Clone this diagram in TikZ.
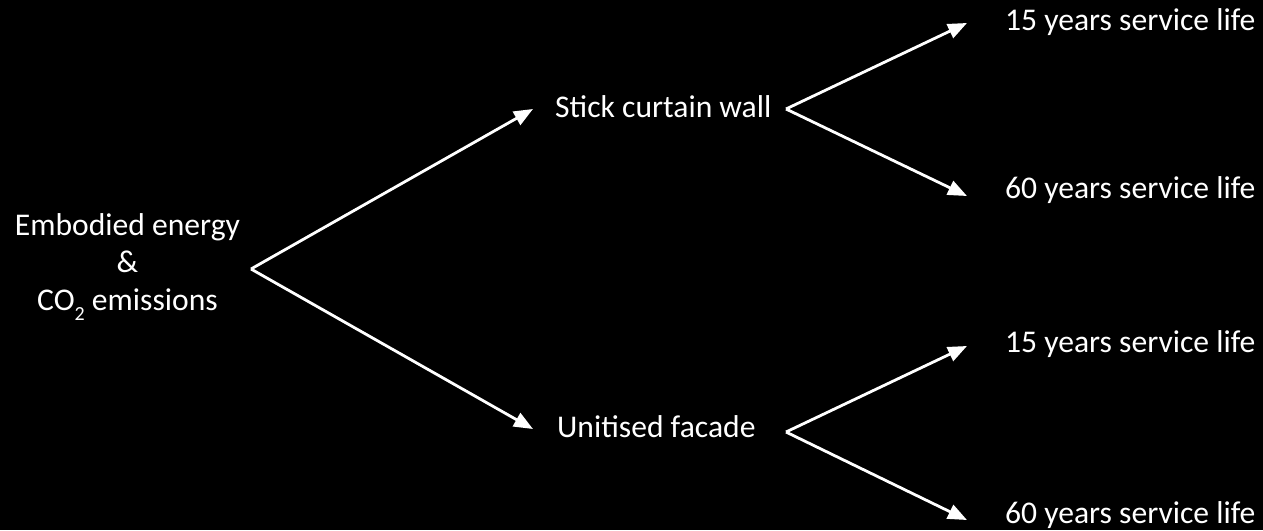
\documentclass[tikz,border=0pt]{standalone}
\usepackage{fontspec}
\setmainfont{Carlito}
\usetikzlibrary{arrows.meta}
\begin{document}
\begin{tikzpicture}[x=1pt,y=-1pt,
  lbl/.style={text=white, font=\fontsize{31.6}{37.5}\selectfont, inner sep=0pt},
  conn/.style={draw=white, line width=2.8pt, -{Triangle[length=19pt,width=15pt]}}]
\useasboundingbox (0,0) rectangle (1263,530);
\fill[black] (0,0) rectangle (1263,530);
\node[lbl, anchor=base, align=center] (src) at (127.5,310)
  {Embodied energy\\\&\\CO\raisebox{-10pt}{\fontsize{20}{20}\selectfont 2} emissions};
\node[lbl, anchor=base west] (stick) at (555,117) {Stick curtain wall};
\node[lbl, anchor=base west] (unit) at (557,437) {Unitised facade};
\node[lbl, anchor=base west] (s15) at (1005,30) {15 years service life};
\node[lbl, anchor=base west] (s60) at (1005,198) {60 years service life};
\node[lbl, anchor=base west] (u15) at (1005,352) {15 years service life};
\node[lbl, anchor=base west] (u60) at (1005,523) {60 years service life};
\coordinate (a0) at (251,269);
\coordinate (a1) at (786,109);
\coordinate (a2) at (786,432);
\draw[conn] (a0) -- ([shift={(-22,-8)}]stick.base west);
\draw[conn] (a0) -- ([shift={(-24,-8)}]unit.base west);
\draw[conn] (a1) -- ([shift={(-38,-7)}]s15.base west);
\draw[conn] (a1) -- ([shift={(-38,-2)}]s60.base west);
\draw[conn] (a2) -- ([shift={(-38,-6)}]u15.base west);
\draw[conn] (a2) -- ([shift={(-38,-3)}]u60.base west);
\end{tikzpicture}
\end{document}
